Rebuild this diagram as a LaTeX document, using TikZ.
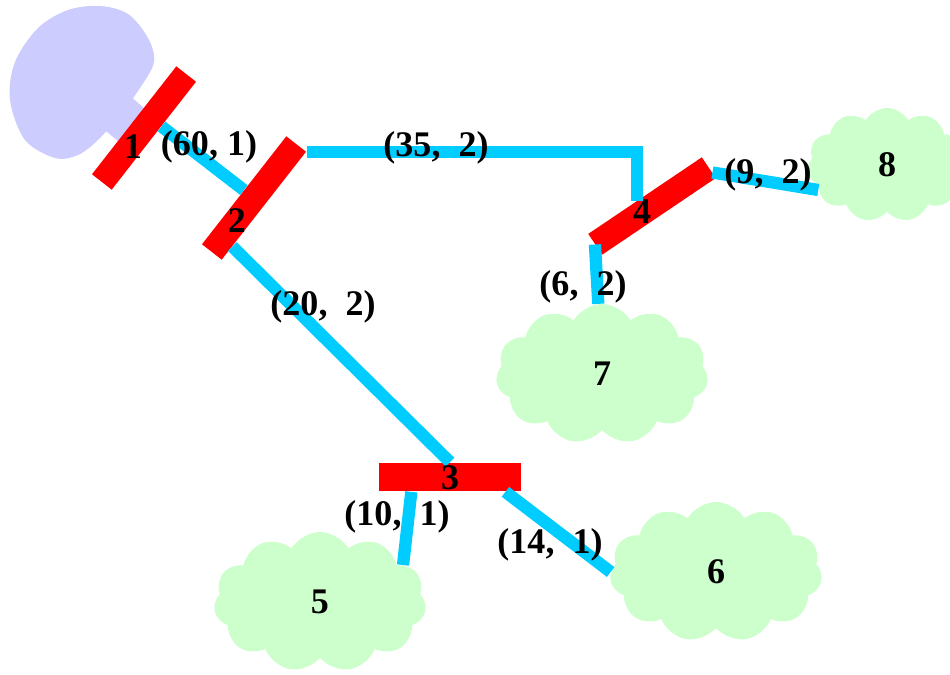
\documentclass[tikz,border=0pt]{standalone}
\usepackage{fontspec}
\setmainfont{Liberation Serif}
\usetikzlibrary{shapes.symbols}
\definecolor{linkblue}{HTML}{00CCFF}
\definecolor{langreen}{HTML}{CCFFCC}
\definecolor{hostblue}{HTML}{CCCCFF}
\tikzset{
	bar/.style={fill=red,minimum height=0.5cm,minimum width=2.74cm,inner sep=0pt},
	lan/.style={cloud,cloud puffs=11,cloud puff arc=120,fill=langreen,minimum width=4.25cm,minimum height=2.8cm},
	link/.style={draw=linkblue,line width=7pt},
	num/.style={font=\fontsize{20.5}{24}\selectfont\bfseries,inner sep=0pt}
}
\begin{document}
\begin{tikzpicture}[x=0.02cm,y=-0.02cm]
	\useasboundingbox (0,0) rectangle (950,675);
	% host
	\fill[hostblue] plot[smooth cycle,tension=0.55] coordinates {(100,6) (128,14) (148,38) (154,62) (140,88) (120,115) (98,140) (78,155) (55,158) (25,140) (10,100) (15,62) (38,28) (68,10)};
	\fill[hostblue] (128,94) -- (146,110) -- (118,141) -- (101,127) -- cycle;
	% lans
	\node[lan,num](c5) at (320,602){5};
	\node[lan,num](c6) at (716,572){6};
	\node[lan,num](c7) at (602,374){7};
	\node[lan,num,minimum width=3.2cm,minimum height=2.28cm](c8) at (887,165){8};
	% bridges
	\node[bar,rotate=52](b1) at (144,128){};
	\node[bar,rotate=52](b2) at (254,198){};
	\node[bar,minimum width=2.86cm,minimum height=0.58cm](b3) at (450,477){};
	\node[bar,rotate=34](b4) at (652,206){};
	% links
	\draw[link] (b1.-47) -- (b2.north);
	\draw[link] (b2.south east) -| (b4.126);
	\draw[link] (b2.194) -- (b3.north);
	\draw[link] (b3.-159) -- (c5.24);
	\draw[link] (b3.-15) -- (c6.west);
	\draw[link] (b4.west) -- (c7.93);
	\draw[link] (b4.-5) -- (c8.200);
	% numbers
	\node[num](n1) at (133,147){1};
	\node[num](n2) at (237,221){2};
	\node[num](n3) at (450,478){3};
	\node[num](n4) at (642,212){4};
	\node[num](w12) at (209,147){(60, 1)};
	\node[num](w24) at (436,148){(35,~~2)};
	\node[num](w23) at (323,307){(20,~~2)};
	\node[num](w48) at (768,175){(9,~~2)};
	\node[num](w47) at (583,287){(6,~~2)};
	\node[num](w35) at (397,517){(10,~~1)};
	\node[num](w36) at (550,545){(14,~~1)};
\end{tikzpicture}
\end{document}
